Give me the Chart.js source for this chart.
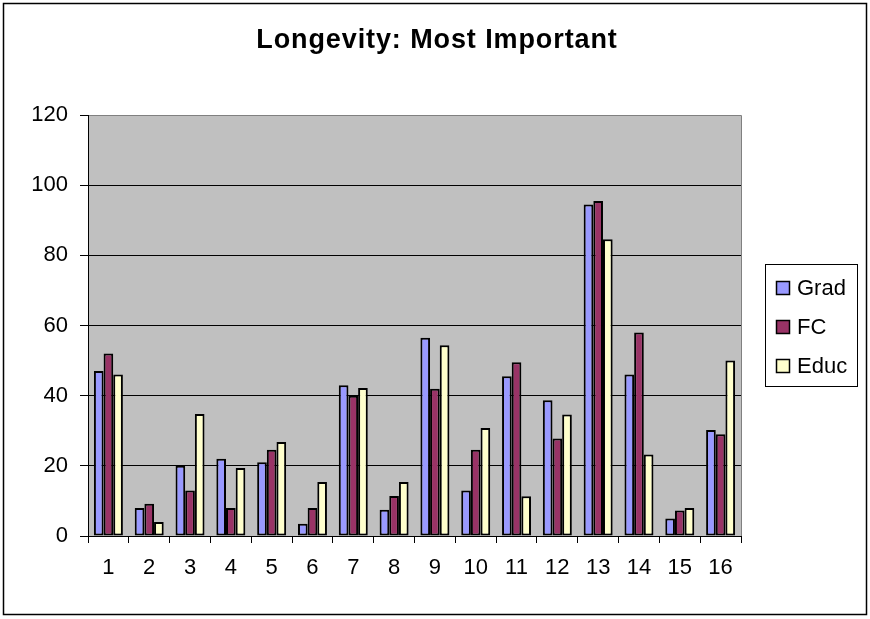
<!DOCTYPE html>
<html>
<head>
<meta charset="utf-8">
<title>Longevity: Most Important</title>
<script src="https://cdn.jsdelivr.net/npm/chart.js@4/dist/chart.umd.min.js"></script>
<style>
  html, body { margin: 0; padding: 0; background: #fff; }
  #wrap { width: 870px; height: 619px; position: relative; }
</style>
</head>
<body>
<div id="wrap"><canvas id="chart" width="870" height="619"></canvas></div>
<script>
// ── Data ────────────────────────────────────────────────────────────────────
var categories = ['1', '2', '3', '4', '5', '6', '7', '8', '9', '10', '11', '12', '13', '14', '15', '16'];
var seriesNames = ['Grad', 'FC', 'Educ'];
var gradValues = [47, 8, 20, 22, 21, 3.5, 43, 7.5, 56.5, 13, 45.5, 38.7, 94.5, 46, 5, 30.2];
var fcValues   = [52, 9.2, 13, 8, 24.6, 8, 40, 11.4, 42, 24.6, 49.5, 27.8, 95.5, 58, 7.3, 29];
var educValues = [46, 4, 34.8, 19.4, 26.8, 15.4, 42.2, 15.4, 54.4, 30.8, 11.3, 34.6, 84.6, 23.2, 8, 50];
var yTicks = [0, 20, 40, 60, 80, 100, 120];
var titleText = 'Longevity: Most Important';

var colors = ['#9999FF', '#993366', '#FFFFCC'];
var FONT = "'Liberation Sans', Arial, sans-serif";

// ── Frame, title, plot background and legend box ────────────────────────────
var framePlugin = {
  id: 'frame',
  beforeDraw: function (chart) {
    var c = chart.ctx, a = chart.chartArea;
    c.save();
    c.fillStyle = '#fff';
    c.fillRect(0, 0, chart.width, chart.height);
    c.strokeStyle = '#000';
    c.lineWidth = 1.5;
    c.strokeRect(3.5, 3.5, 863, 611);
    c.fillStyle = '#C0C0C0';
    c.fillRect(a.left, a.top, a.right - a.left, a.bottom - a.top);
    c.strokeStyle = '#808080';
    c.lineWidth = 1;
    c.beginPath();
    c.moveTo(a.left, a.top + 0.5);
    c.lineTo(a.right + 0.5, a.top + 0.5);
    c.lineTo(a.right + 0.5, a.bottom);
    c.stroke();

    // title
    c.fillStyle = '#000';
    c.font = 'bold 27px ' + FONT;
    if ('letterSpacing' in c) c.letterSpacing = '0.9px';
    c.textAlign = 'center';
    c.textBaseline = 'alphabetic';
    c.fillText(titleText, 437, 48);
    c.restore();
  },
  afterDraw: function (chart) {
    var c = chart.ctx;
    var bx = 765, by = 264, bw = 92, bh = 122;
    c.save();
    c.fillStyle = '#fff';
    c.fillRect(bx, by, bw, bh);
    c.strokeStyle = '#000';
    c.lineWidth = 1;
    c.strokeRect(bx + 0.5, by + 0.5, bw, bh);
    c.font = '22px ' + FONT;
    c.textBaseline = 'middle';
    c.textAlign = 'left';
    chart.data.datasets.forEach(function (ds, i) {
      var cy = 288 + i * 39;
      c.fillStyle = ds.backgroundColor;
      c.fillRect(776, cy - 7, 14, 14);
      c.strokeStyle = '#000';
      c.lineWidth = 1.5;
      c.strokeRect(776.5, cy - 6.5, 13, 13);
      c.fillStyle = '#000';
      c.fillText(ds.label, 797, cy + 1);
    });
    c.restore();
  }
};

var datasets = [gradValues, fcValues, educValues].map(function (vals, i) {
  return {
    label: seriesNames[i],
    data: vals,
    backgroundColor: colors[i],
    borderColor: '#000',
    borderWidth: 2,
    borderSkipped: false,
    categoryPercentage: 0.71,
    barPercentage: 1.0
  };
});

new Chart(document.getElementById('chart'), {
  type: 'bar',
  data: { labels: categories, datasets: datasets },
  plugins: [framePlugin],
  options: {
    responsive: false,
    animation: false,
    layout: { padding: { top: 115, left: 0, right: 129, bottom: 0 } },
    plugins: {
      legend: { display: false },
      tooltip: { enabled: false },
      title: { display: false }
    },
    scales: {
      x: {
        afterFit: function (s) { s.height = 83; },
        grid: { display: true, offset: true, drawOnChartArea: false, color: '#000', tickLength: 7 },
        border: { color: '#000', width: 1 },
        ticks: { color: '#000', font: { family: FONT, size: 22 }, padding: 12 }
      },
      y: {
        min: 0,
        max: 120,
        afterFit: function (s) { s.width = 88; },
        afterBuildTicks: function (s) { s.ticks = yTicks.map(function (v) { return { value: v }; }); },
        grid: {
          color: function (ctx) { return ctx.tick && ctx.tick.value === 120 ? '#808080' : '#000'; },
          tickColor: '#000',
          tickLength: 8
        },
        border: { color: '#000', width: 1 },
        ticks: { color: '#000', font: { family: FONT, size: 22 }, padding: 12 }
      }
    }
  }
});
</script>
</body>
</html>
